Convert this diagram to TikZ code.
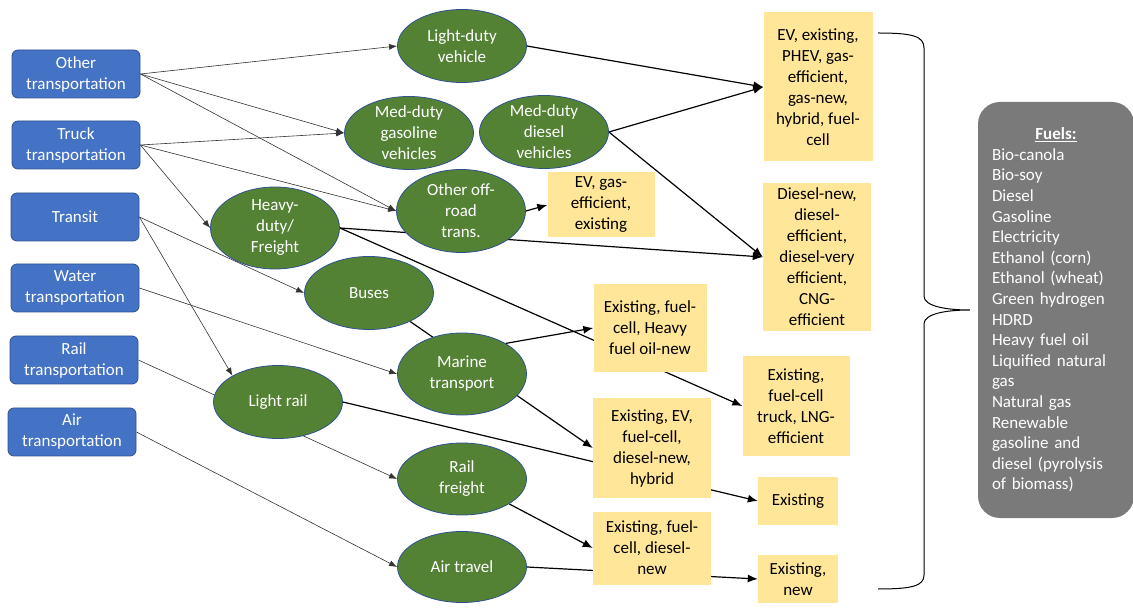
\documentclass[tikz,border=0pt]{standalone}
\usepackage{fontspec}
\setmainfont{Carlito}
\usetikzlibrary{shapes.geometric,arrows.meta,backgrounds}
\definecolor{modeblue}{HTML}{4472C4}
\definecolor{edgeblue}{HTML}{2F528F}
\definecolor{vehgreen}{HTML}{548235}
\definecolor{techyellow}{HTML}{FFE699}
\definecolor{fuelgray}{HTML}{7A7A7A}

\begin{document}
\begin{tikzpicture}[x=1pt, y=-1pt]
    \tikzset{
        every node/.style={font=\fontsize{17}{21}\selectfont},
        mode/.style={rectangle, rounded corners=6pt, draw=edgeblue, line width=0.8pt, fill=modeblue, text=white, minimum width=128pt, minimum height=48pt, align=center, inner sep=0pt},
        veh/.style={ellipse, draw=edgeblue, line width=0.8pt, fill=vehgreen, text=white, minimum width=129pt, minimum height=73pt, align=center, inner sep=-10pt},
        tech/.style={rectangle, fill=techyellow, align=center, inner sep=0pt},
        feed/.style={draw=black!80, line width=0.6pt, -{Latex[length=8pt, width=6pt]}},
        link/.style={draw=black, line width=1.2pt, -{Latex[length=10pt, width=8pt]}}
    }
    \useasboundingbox (0,0) rectangle (1133,609);

    % transportation sectors
    \node[mode] (other)   at (76,74)  {Other\\transportation};
    \node[mode] (truck)   at (76,145) {Truck\\transportation};
    \node[mode] (transit) at (75,217) {Transit};
    \node[mode] (water)   at (75,288) {Water\\transportation};
    \node[mode] (rail)    at (74,360) {Rail\\transportation};
    \node[mode] (air)     at (72,432) {Air\\transportation};

    % vehicle types
    \node[veh] (ldv)      at (462,46)  {Light-duty\\vehicle};
    \node[veh] (medgas)   at (409,133) {Med-duty\\gasoline\\vehicles};
    \node[veh] (meddsl)   at (544,132) {Med-duty\\diesel\\vehicles};
    \node[veh, minimum height=83pt] (offroad) at (461,211) {Other off-\\road\\trans.};
    \node[veh, minimum height=82pt] (heavy)   at (275,228) {Heavy-\\duty/\\Freight};
    \node[veh] (buses)    at (369,293) {Buses};
    \node[veh, minimum height=82pt] (marine)  at (462,374) {Marine\\transport};
    \node[veh] (lrail)    at (278,402) {Light rail};
    \node[veh, minimum height=72pt] (rfreight) at (462,479) {Rail\\freight};
    \node[veh, minimum height=71pt] (airtr)   at (462,567) {Air travel};

    % technologies
    \node[tech, minimum width=109pt, minimum height=149pt] (evbox)  at (818,87)  {EV, existing,\\PHEV, gas-\\efficient,\\gas-new,\\hybrid, fuel-\\cell};
    \node[tech, minimum width=108pt, minimum height=148pt] (dslbox) at (817,257) {Diesel-new,\\diesel-\\efficient,\\diesel-very\\efficient,\\CNG-\\efficient};
    \node[tech, minimum width=107pt, minimum height=65pt]  (evgas)  at (601,205) {EV, gas-\\efficient,\\existing};
    \node[tech, minimum width=113pt, minimum height=88pt]  (hfobox) at (650,328) {Existing, fuel-\\cell, Heavy\\fuel oil-new};
    \node[tech, minimum width=107pt, minimum height=100pt] (lngbox) at (796,406) {Existing,\\fuel-cell\\truck, LNG-\\efficient};
    \node[tech, minimum width=118pt, minimum height=100pt] (exevbox) at (652,448) {Existing, EV,\\fuel-cell,\\diesel-new,\\hybrid};
    \node[tech, minimum width=80pt, minimum height=48pt]   (exst)   at (798,501) {Existing};
    \node[tech, minimum width=118pt, minimum height=73pt]  (fcdbox) at (652,548) {Existing, fuel-\\cell, diesel-\\new};
    \node[tech, minimum width=80pt, minimum height=48pt]   (exnew)  at (798,579) {Existing,\\new};

    % fuels
    \node[rectangle, rounded corners=22pt, fill=fuelgray, text=white, text width=128pt, align=left,
          minimum height=416pt, inner xsep=14pt, font=\fontsize{17}{20.6}\selectfont] (fuels) at (1056,310)
        {\makebox[128pt]{\underline{\textbf{Fuels:}}}\\Bio-canola\\Bio-soy\\Diesel\\Gasoline\\Electricity\\Ethanol (corn)\\Ethanol (wheat)\\Green hydrogen\\HDRD\\Heavy fuel oil\\Liquified natural\\gas\\Natural gas\\Renewable\\gasoline and\\diesel (pyrolysis\\of biomass)};

    \coordinate (bracetop) at (878,33);
    \coordinate (bracebot) at (878,589);
    \coordinate (bracetip) at ([xshift=-8pt]fuels.west);
    \draw[line width=1pt] (bracetop) .. controls (912,33) and (924,36) .. (924,48) -- (924,296)
        .. controls (924,306) and (945,310) .. (bracetip)
        .. controls (945,310) and (924,314) .. (924,324) -- (924,575)
        .. controls (924,586) and (912,589) .. (bracebot);

    \begin{scope}[on background layer]
        \draw[feed] (other.east) -- (ldv.west);
        \draw[feed] (other.east) -- (medgas.west);
        \draw[feed] (other.east) -- (offroad.west);
        \draw[feed] (truck.east) -- (medgas.west);
        \draw[feed] (truck.east) -- (offroad.west);
        \draw[feed] (truck.east) -- (heavy.west);
        \draw[feed] (transit.east) -- (buses.west);
        \draw[feed] (transit.east) -- (lrail.150);
        \draw[feed] (water.east) -- (marine.west);
        \draw[feed] (rail.east) -- (rfreight.west);
        \draw[feed] (air.east) -- (airtr.west);

        \draw[link] (ldv.east) -- (evbox.west);
        \draw[link] (meddsl.east) -- (evbox.west);
        \draw[link] (meddsl.east) -- (dslbox.west);
        \draw[link] (heavy.east) -- (dslbox.west);
        \draw[link] (heavy.east) -- (lngbox.west);
        \draw[link] (offroad.east) -- (evgas.west);
        \draw[link] (buses) -- (exevbox.west);
        \draw[link] (marine.35) -- (hfobox.west);
        \draw[link] (lrail.east) -- (exst.west);
        \draw[link] (rfreight) -- (fcdbox.west);
        \draw[link] (airtr.east) -- (exnew.west);
    \end{scope}
\end{tikzpicture}
\end{document}
